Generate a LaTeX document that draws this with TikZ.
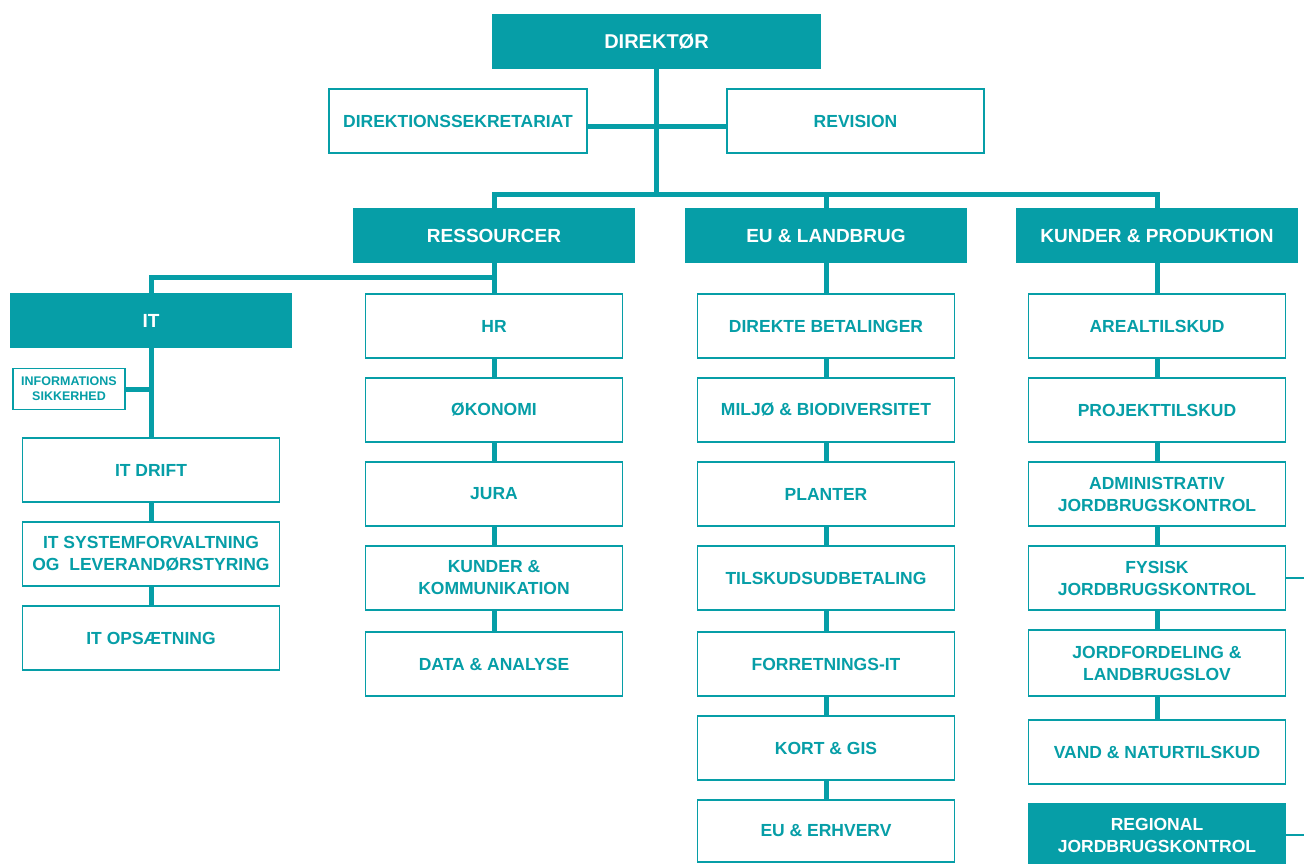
\documentclass[tikz,border=0pt]{standalone}
\usepackage{fontspec}
\setmainfont{Liberation Sans}
\definecolor{teal}{HTML}{069EA7}
\tikzset{
  obox/.style={draw=teal, line width=1.6pt, fill=white, text=teal, align=center, inner sep=0pt,
    font=\bfseries\fontsize{17.5}{22}\selectfont},
  fbox/.style={draw=teal, line width=1.6pt, fill=teal, text=white, align=center, inner sep=0pt,
    font=\bfseries\fontsize{19}{22}\selectfont},
  sbox/.style={obox, font=\bfseries\fontsize{12.5}{15}\selectfont},
  conn/.style={draw=teal, line width=5pt},
  wh/.style args={#1x#2}{minimum width=#1pt, minimum height=#2pt}
}
\begin{document}
\begin{tikzpicture}[x=1pt,y=-1pt]
\useasboundingbox (0,0) rectangle (1304,863);
\fill[white] (0,0) rectangle (1304,863);
\coordinate (bus) at (0,194);
\coordinate (itbus) at (0,277);
\coordinate (edge) at (1304,0);
% top
\node[fbox, wh=327x53, font=\bfseries\fontsize{20}{22}\selectfont] (dir) at (656.5,41.5) {DIREKTØR};
\node[obox, wh=258x64] (ds) at (458,121) {DIREKTIONSSEKRETARIAT};
\node[obox, wh=257x64] (rev) at (855.5,121) {REVISION};
% level 2
\node[fbox, wh=280x53] (res) at (494,235.5) {RESSOURCER};
\node[fbox, wh=280x53] (eu) at (826,235.5) {EU \& LANDBRUG};
\node[fbox, wh=280x53] (kp) at (1157,235.5) {KUNDER \& PRODUKTION};
% IT
\node[fbox, wh=280x53] (it) at (151,320.5) {IT};
\node[sbox, wh=112x41] (info) at (69,389) {INFORMATIONS\\SIKKERHED};
\node[obox, wh=257x64] (itd) at (151,470) {IT DRIFT};
\node[obox, wh=257x64] (its) at (151,554) {IT SYSTEMFORVALTNING\\OG\ \ LEVERANDØRSTYRING};
\node[obox, wh=257x64] (ito) at (151,638) {IT OPSÆTNING};
% Ressourcer column
\node[obox, wh=257x64] (hr) at (494,326) {HR};
\node[obox, wh=257x64] (oek) at (494,410) {ØKONOMI};
\node[obox, wh=257x64] (jura) at (494,494) {JURA};
\node[obox, wh=257x64] (kk) at (494,578) {KUNDER \&\\KOMMUNIKATION};
\node[obox, wh=257x64] (da) at (494,664) {DATA \& ANALYSE};
% EU column
\node[obox, wh=257x64] (db) at (826,326) {DIREKTE BETALINGER};
\node[obox, wh=257x64] (mb) at (826,410) {MILJØ \& BIODIVERSITET};
\node[obox, wh=257x64] (pl) at (826,494) {PLANTER};
\node[obox, wh=257x64] (tu) at (826,578) {TILSKUDSUDBETALING};
\node[obox, wh=257x64] (fit) at (826,664) {FORRETNINGS-IT};
\node[obox, wh=257x64] (kg) at (826,748) {KORT \& GIS};
\node[obox, wh=257x62] (ee) at (826,831) {EU \& ERHVERV};
% Kunder column
\node[obox, wh=257x64] (at) at (1157,326) {AREALTILSKUD};
\node[obox, wh=257x64] (pt) at (1157,410) {PROJEKTTILSKUD};
\node[obox, wh=257x64] (aj) at (1157,494) {ADMINISTRATIV\\JORDBRUGSKONTROL};
\node[obox, wh=257x64] (fj) at (1157,578) {FYSISK\\JORDBRUGSKONTROL};
\node[obox, wh=257x66] (jl) at (1157,663) {JORDFORDELING \&\\LANDBRUGSLOV};
\node[obox, wh=257x64] (vn) at (1157,752) {VAND \& NATURTILSKUD};
\node[fbox, wh=257x62, font=\bfseries\fontsize{17.5}{22}\selectfont] (rj) at (1157,835) {REGIONAL\\JORDBRUGSKONTROL};
% connectors
\draw[conn] (dir.south) -- (dir.south |- bus);
\draw[conn] ([yshift=-5pt]ds.east) -- ([yshift=-5pt]rev.west);
\draw[conn] (res.north) -- (res.north |- bus) -| (kp.north);
\draw[conn] (eu.north) -- (eu.north |- bus);
\draw[conn] (res.south) -- (hr.north);
\draw[conn] (it.north) |- (res.south |- itbus);
\draw[conn] (it.south) -- (itd.north);
\draw[conn] (info.east) -- (info.east -| it.south);
\draw[conn] (itd.south) -- (its.north);
\draw[conn] (its.south) -- (ito.north);
\draw[conn] (hr.south) -- (oek.north);
\draw[conn] (oek.south) -- (jura.north);
\draw[conn] (jura.south) -- (kk.north);
\draw[conn] (kk.south) -- (da.north);
\draw[conn] (eu.south) -- (db.north);
\draw[conn] (db.south) -- (mb.north);
\draw[conn] (mb.south) -- (pl.north);
\draw[conn] (pl.south) -- (tu.north);
\draw[conn] (tu.south) -- (fit.north);
\draw[conn] (fit.south) -- (kg.north);
\draw[conn] (kg.south) -- (ee.north);
\draw[conn] (kp.south) -- (at.north);
\draw[conn] (at.south) -- (pt.north);
\draw[conn] (pt.south) -- (aj.north);
\draw[conn] (aj.south) -- (fj.north);
\draw[conn] (fj.south) -- (jl.north);
\draw[conn] (jl.south) -- (vn.north);
\draw[conn, line width=2.5pt] (fj.east) -- (fj.east -| edge);
\draw[conn, line width=2.5pt] (rj.east) -- (rj.east -| edge);
\end{tikzpicture}
\end{document}
